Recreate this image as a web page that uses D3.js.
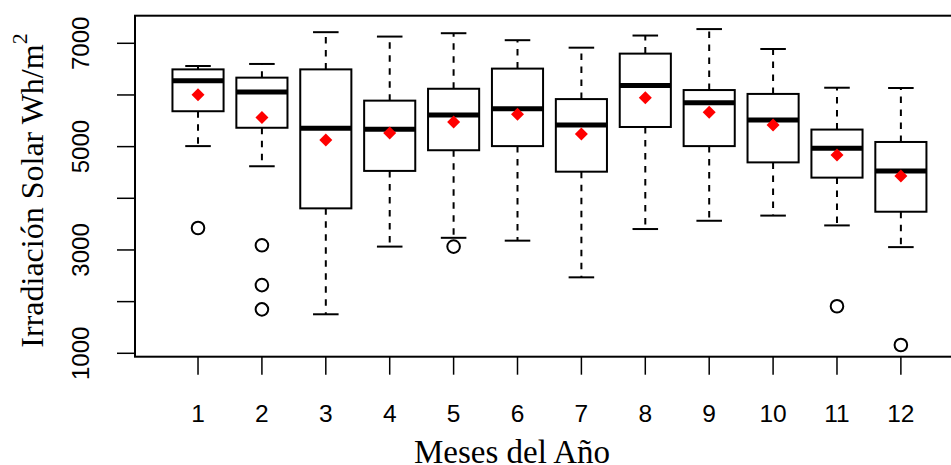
<!DOCTYPE html>
<html>
<head>
<meta charset="utf-8">
<script src="https://cdn.jsdelivr.net/npm/d3@7"></script>
<style>
    body { margin: 0; background: white; }
</style>
</head>
<body>
<div id="my_dataviz"></div>
<script>
// Monthly solar irradiation (Wh/m2), boxplot stats
const months = [1, 2, 3, 4, 5, 6, 7, 8, 9, 10, 11, 12]
const lowerWhisker = [5010, 4620, 1755, 3065, 3235, 3180, 2470, 3405, 3565, 3665, 3475, 3055]
const q1 = [5685, 5365, 3805, 4530, 4930, 5010, 4515, 5380, 5010, 4695, 4400, 3740]
const medians = [6275, 6055, 5355, 5335, 5610, 5735, 5420, 6185, 5850, 5515, 4970, 4530]
const q3 = [6495, 6335, 6495, 5890, 6120, 6510, 5920, 6800, 6095, 6020, 5330, 5090]
const upperWhisker = [6560, 6600, 7215, 7130, 7195, 7060, 6915, 7150, 7275, 6890, 6140, 6135]
const means = [6005, 5565, 5130, 5265, 5475, 5625, 5245, 5945, 5665, 5420, 4840, 4430]
const outlierMonth = [1, 2, 2, 2, 5, 11, 12]
const outlierValue = [3425, 3090, 2320, 1850, 3065, 1910, 1160]
const yTicks = [1000, 2000, 3000, 4000, 5000, 6000, 7000]
const yLabels = [1000, 3000, 5000, 7000]

const width = 951
const height = 465
const plotLeft = 135.4, plotTop = 15.7, plotBottom = 356.7

const svg = d3.select("#my_dataviz")
    .append("svg")
    .attr("width", width)
    .attr("height", height)

// R style axes: x from 0.5 to 12.5 plus 4% each side
const x = d3.scaleLinear()
    .domain([0.02, 12.98])
    .range([plotLeft, 963.5])
const y = d3.scaleLinear()
    .domain([934, 7534])
    .range([plotBottom, plotTop])

const boxHalf = (x(1.4) - x(1))
const stapleHalf = boxHalf / 2

const stats = months.map((m, i) => ({
    m: m, lw: lowerWhisker[i], q1: q1[i], med: medians[i], q3: q3[i], uw: upperWhisker[i], mean: means[i]
}))

const g = svg.append("g")

// whiskers (dashed)
g.selectAll(".whisk-up")
    .data(stats)
    .join("line")
    .attr("x1", d => x(d.m)).attr("x2", d => x(d.m))
    .attr("y1", d => y(d.q3)).attr("y2", d => y(d.uw))
    .attr("stroke", "black").attr("stroke-width", 2)
    .attr("stroke-dasharray", "6.5,6.5")
g.selectAll(".whisk-down")
    .data(stats)
    .join("line")
    .attr("x1", d => x(d.m)).attr("x2", d => x(d.m))
    .attr("y1", d => y(d.q1)).attr("y2", d => y(d.lw))
    .attr("stroke", "black").attr("stroke-width", 2)
    .attr("stroke-dasharray", "6.5,6.5")

// staples
g.selectAll(".staple-up")
    .data(stats)
    .join("line")
    .attr("x1", d => x(d.m) - stapleHalf).attr("x2", d => x(d.m) + stapleHalf)
    .attr("y1", d => y(d.uw)).attr("y2", d => y(d.uw))
    .attr("stroke", "black").attr("stroke-width", 2)
g.selectAll(".staple-down")
    .data(stats)
    .join("line")
    .attr("x1", d => x(d.m) - stapleHalf).attr("x2", d => x(d.m) + stapleHalf)
    .attr("y1", d => y(d.lw)).attr("y2", d => y(d.lw))
    .attr("stroke", "black").attr("stroke-width", 2)

// boxes
g.selectAll(".box")
    .data(stats)
    .join("rect")
    .attr("x", d => x(d.m) - boxHalf)
    .attr("width", boxHalf * 2)
    .attr("y", d => y(d.q3))
    .attr("height", d => y(d.q1) - y(d.q3))
    .attr("fill", "white")
    .attr("stroke", "black").attr("stroke-width", 2)

// medians
g.selectAll(".median")
    .data(stats)
    .join("line")
    .attr("x1", d => x(d.m) - boxHalf).attr("x2", d => x(d.m) + boxHalf)
    .attr("y1", d => y(d.med)).attr("y2", d => y(d.med))
    .attr("stroke", "black").attr("stroke-width", 5)

// outliers
g.selectAll(".outlier")
    .data(outlierValue)
    .join("circle")
    .attr("cx", (d, i) => x(outlierMonth[i]))
    .attr("cy", d => y(d))
    .attr("r", 6.3)
    .attr("fill", "none")
    .attr("stroke", "black").attr("stroke-width", 2)

// means as red diamonds
g.selectAll(".mean")
    .data(stats)
    .join("path")
    .attr("d", d => {
        const cx = x(d.m), cy = y(d.mean), s = 6.5
        return "M" + cx + "," + (cy - s) + "L" + (cx + s) + "," + cy + "L" + cx + "," + (cy + s) + "L" + (cx - s) + "," + cy + "Z"
    })
    .attr("fill", "red")

// plot frame (right side falls outside the picture)
svg.append("rect")
    .attr("x", 135)
    .attr("y", plotTop)
    .attr("width", 840)
    .attr("height", plotBottom - plotTop)
    .attr("fill", "none")
    .attr("stroke", "black")
    .attr("stroke-width", 2)

// x axis
svg.append("g")
    .selectAll("line")
    .data(months)
    .join("line")
    .attr("x1", d => x(d)).attr("x2", d => x(d))
    .attr("y1", plotBottom).attr("y2", plotBottom + 18)
    .attr("stroke", "black").attr("stroke-width", 1.5)
svg.append("g")
    .selectAll("text")
    .data(months)
    .join("text")
    .attr("x", d => x(d))
    .attr("y", 421.5)
    .attr("text-anchor", "middle")
    .style("font-family", "'Liberation Sans', Arial, sans-serif")
    .style("font-size", "24.5px")
    .text(d => d)

// y axis
svg.append("g")
    .selectAll("line")
    .data(yTicks)
    .join("line")
    .attr("x1", 117).attr("x2", 135)
    .attr("y1", d => y(d)).attr("y2", d => y(d))
    .attr("stroke", "black").attr("stroke-width", 1.5)
svg.append("g")
    .selectAll("text")
    .data(yLabels)
    .join("text")
    .attr("transform", d => "translate(88.5," + y(d) + ") rotate(-90)")
    .attr("text-anchor", "middle")
    .style("font-family", "'Liberation Sans', Arial, sans-serif")
    .style("font-size", "24px")
    .text(d => d)

// axis titles
svg.append("text")
    .attr("x", 512)
    .attr("y", 463)
    .attr("text-anchor", "middle")
    .style("font-family", "'Liberation Serif', 'Times New Roman', serif")
    .style("font-size", "33px")
    .text("Meses del Año")

const ytitle = svg.append("text")
    .attr("transform", "translate(43,190.5) rotate(-90)")
    .attr("text-anchor", "middle")
    .style("font-family", "'Liberation Serif', 'Times New Roman', serif")
    .style("font-size", "32px")
ytitle.append("tspan").text("Irradiación Solar Wh/m")
ytitle.append("tspan")
    .attr("dy", -16)
    .style("font-size", "22px")
    .text("2")
</script>
</body>
</html>
